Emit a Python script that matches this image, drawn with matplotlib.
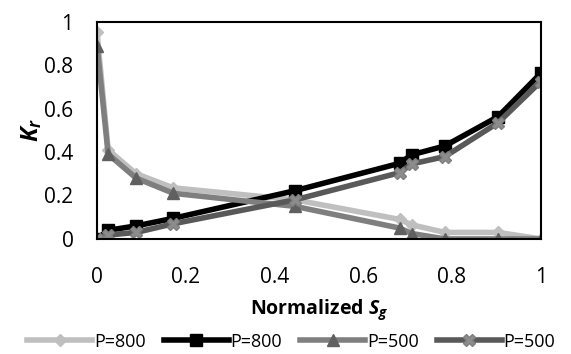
import numpy as np
from matplotlib import pyplot as plt

# datos
sg = [0, 0.025, 0.088, 0.172, 0.446, 0.682, 0.709, 0.784, 0.904, 1.0]
kro_800 = [0.95, 0.41, 0.30, 0.235, 0.18, 0.09, 0.065, 0.03, 0.03, 0.0]
krg_800 = [0.0, 0.04, 0.06, 0.095, 0.222, 0.348, 0.387, 0.428, 0.563, 0.762]
kro_500 = [0.89, 0.39, 0.28, 0.21, 0.15, 0.05, 0.025, 0.0, 0.0, 0.0]
krg_500 = [0.0, 0.018, 0.03, 0.07, 0.18, 0.305, 0.345, 0.379, 0.535, 0.724]
ticks = [0, 0.2, 0.4, 0.6, 0.8, 1.0]
tick_labels = ['0', '0.2', '0.4', '0.6', '0.8', '1']

plt.rcParams['font.family'] = ['Open Sans', 'DejaVu Sans']
plt.rcParams['mathtext.fontset'] = 'custom'
plt.rcParams['mathtext.rm'] = 'Open Sans:bold'
plt.rcParams['mathtext.it'] = 'Open Sans:italic:bold'

fig = plt.figure(figsize=(5.71, 3.54), dpi=100)
ax = fig.add_axes([0.170, 0.325, 0.777, 0.614])

ax.plot(sg, kro_800, color='#bfbfbf', linewidth=4, marker='D', markersize=6, label='P=800')
ax.plot(sg, krg_800, color='black', linewidth=4, marker='s', markersize=8, label='P=800')
ax.plot(sg, kro_500, color='#7f7f7f', linewidth=4, marker='^', markersize=9,
        markeredgecolor='#606060', markerfacecolor='#606060', label='P=500')
ax.plot(sg, krg_500, color='#595959', linewidth=4, marker='X', markersize=9,
        markerfacecolor='#8c8c8c', markeredgecolor='#7f7f7f', label='P=500')

ax.set_xlim(0, 1)
ax.set_ylim(0, 1)
ax.set_xticks(ticks)
ax.set_yticks(ticks)
ax.set_xticklabels(tick_labels)
ax.set_yticklabels(tick_labels)
ax.tick_params(length=0, labelsize=15)
ax.tick_params(axis='x', pad=20)
ax.tick_params(axis='y', pad=17)
for s in ax.spines.values():
    s.set_linewidth(1.5)

ax.set_xlabel(r'Normalized $S_g$', fontsize=14, fontweight='bold', labelpad=7)
ax.set_ylabel(r'$K_r$', fontsize=17, labelpad=0)

fig.legend(*ax.get_legend_handles_labels(), loc='center', bbox_to_anchor=(0.51, 0.035),
           ncol=4, frameon=False, fontsize=13, handlelength=3.6, columnspacing=1.0,
           handletextpad=0.1, borderpad=0)

fig.savefig('out.png', dpi=100)
